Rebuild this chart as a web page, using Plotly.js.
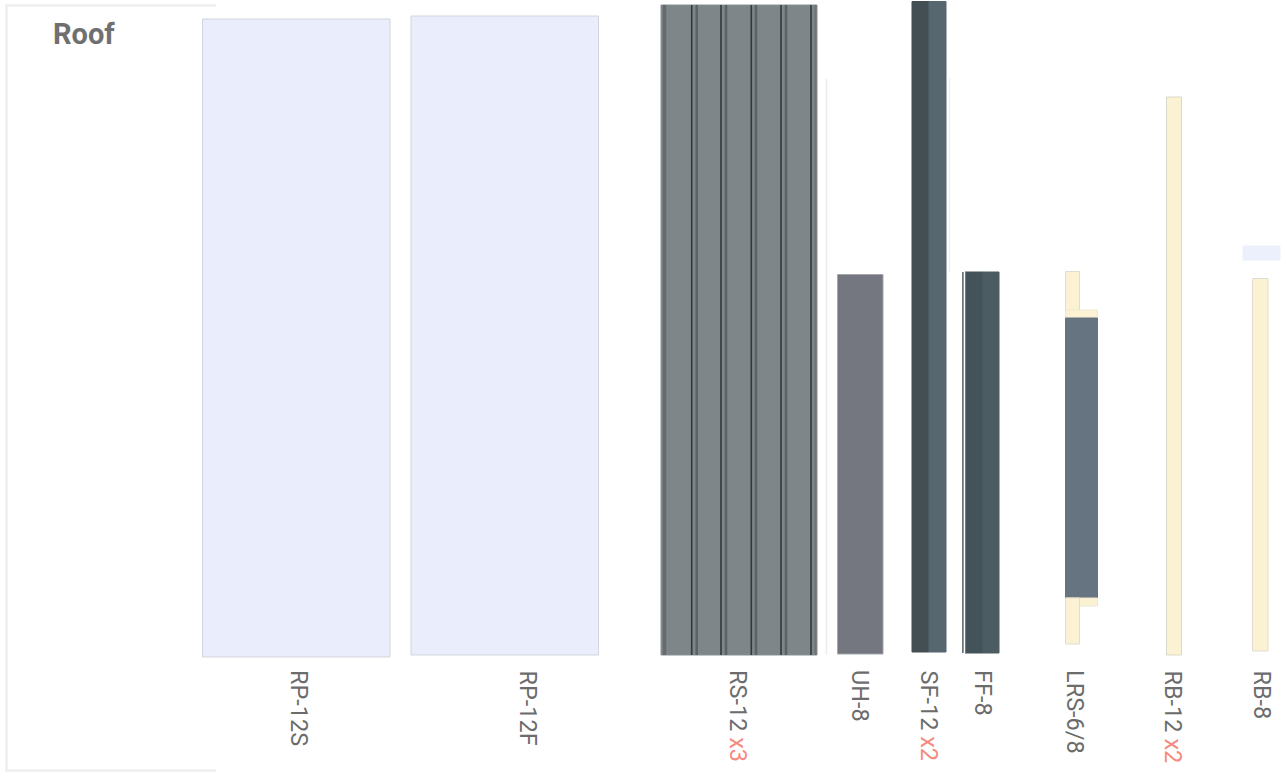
<!DOCTYPE html>
<html>
<head>
<meta charset="utf-8">
<script src="https://cdn.plot.ly/plotly-3.0.1.min.js"></script>
<style>html,body{margin:0;padding:0;background:#fff;overflow:hidden}#chart{width:1287px;height:776px}</style>
</head>
<body>
<div id="chart"></div>
<script>
// Panels: left, right, top, bottom edges
const pieceNames = ['RP-12S','RP-12F','RS-12','UH-8','SF-12 left','SF-12 right','FF-8 left','FF-8 right','LRS top leg','LRS top lip','LRS body','LRS bottom lip','LRS bottom leg','RB-12','RB-8','Offcut'];
const pieceLeft   = [202.5,411,661,837.5,912,929,965,983,1065.5,1065.5,1065.5,1065.5,1065.5,1166.5,1252.5,1243];
const pieceRight  = [390,598.5,817,883,929,946,983,999,1079.5,1097.5,1097.5,1097.5,1079.5,1181.5,1268,1280];
const pieceTop    = [19,16,5,274.5,1.5,1.5,272,272,271.5,310,318,598,598,97,278.5,246];
const pieceBottom = [657,655,655,654,652,652,653,653,318,318,598,606,644,655,651,260];
const pieceFill   = ['#e9edfc','#e9edfc','#7e8689','#747680','#434f52','#566770','#44535a','#4c5d61','#fbf1d3','#fbf1d3','#667380','#fbf1d3','#fbf1d3','#fbf1d3','#fbf1d3','#ebf0fc'];
const pieceEdge   = ['#d2d5dc','#d2d5dc','#8a8f92','#a4a6ac','#434f52','#566770','#44535a','#4c5d61','#e2decf','#efe8d0','#667380','#efe8d0','#e2decf','#dcd9cc','#e0ddd0','#ebf0fc'];

// Rib lines on the RS-12 sheet
const ribX     = [664.5,691.7,696.7,721,726,751.3,756,781,786,811,815.5];
const ribWidth = [3.5,1.6,2.6,1.6,2.6,1.6,2.6,1.6,2.6,1.6,2];
const ribColor = ['#636b6f','#2f3a3c','#5a6468','#2f3a3c','#5a6468','#2f3a3c','#5a6468','#2f3a3c','#5a6468','#2f3a3c','#6e7579'];
const ribTop = 5, ribBottom = 655;

// Thin faint vertical guides and the dark sliver of FF-8
const guideX      = [826.5,949.5,963,964.5];
const guideTop    = [79,78,272,272];
const guideBottom = [655,272,653,653];
const guideColor  = ['#ececec','#f0f0f0','#3c474b','#ffffff'];
const guideWidth  = [1.5,1.5,1.5,1.5];

// Part labels
const labelText = ['RP-12S','RP-12F','RS-12 <span style="color:#f58a80">x3</span>','UH-8','SF-12 <span style="color:#f58a80">x2</span>','FF-8','LRS-6/8','RB-12 <span style="color:#f58a80">x2</span>','RB-8'];
const labelX = [299,528,738,860,929,983,1075,1173,1262];
const labelY = 669;

// Frame
const frameX = [216,6.5,6.5,216];
const frameY = [5.5,5.5,770.5,770.5];

const traces = [];
traces.push({type:'scatter',mode:'lines',x:frameX,y:frameY,line:{color:'#eeeeee',width:2.5},hoverinfo:'skip',showlegend:false});
traces.push({
  type:'bar',orientation:'v',
  x:pieceLeft.map((l,i)=>(l+pieceRight[i])/2),
  width:pieceLeft.map((l,i)=>pieceRight[i]-l),
  base:pieceTop,
  y:pieceBottom.map((b,i)=>b-pieceTop[i]),
  text:pieceNames,textposition:'none',
  marker:{color:pieceFill,line:{color:pieceEdge,width:1}},
  showlegend:false,hoverinfo:'text'
});
ribX.forEach((x,i)=>traces.push({type:'scatter',mode:'lines',x:[x,x],y:[ribTop,ribBottom],line:{color:ribColor[i],width:ribWidth[i]},hoverinfo:'skip',showlegend:false}));
guideX.forEach((x,i)=>traces.push({type:'scatter',mode:'lines',x:[x,x],y:[guideTop[i],guideBottom[i]],line:{color:guideColor[i],width:guideWidth[i]},hoverinfo:'skip',showlegend:false}));

const annotations = labelText.map((t,i)=>({
  text:t,x:labelX[i],y:labelY,xref:'x',yref:'y',xanchor:'center',yanchor:'top',textangle:90,showarrow:false,
  borderpad:0,font:{family:'Roboto',size:23.5,weight:400,color:'#6c6c6c'}
}));
annotations.push({text:'<b>Roof</b>',x:84,y:34,xref:'x',yref:'y',xanchor:'center',yanchor:'middle',showarrow:false,
  font:{family:'Roboto',size:29,color:'#707070'}});

const hiddenAxis = {visible:false,showgrid:false,zeroline:false,fixedrange:true};
Plotly.newPlot('chart',traces,{
  width:1287,height:776,
  margin:{l:0,r:0,t:0,b:0,pad:0},
  paper_bgcolor:'#ffffff',plot_bgcolor:'#ffffff',
  barmode:'overlay',showlegend:false,
  xaxis:Object.assign({range:[0,1287]},hiddenAxis),
  yaxis:Object.assign({range:[776,0]},hiddenAxis),
  annotations:annotations
},{displayModeBar:false,staticPlot:true});
</script>
</body>
</html>
